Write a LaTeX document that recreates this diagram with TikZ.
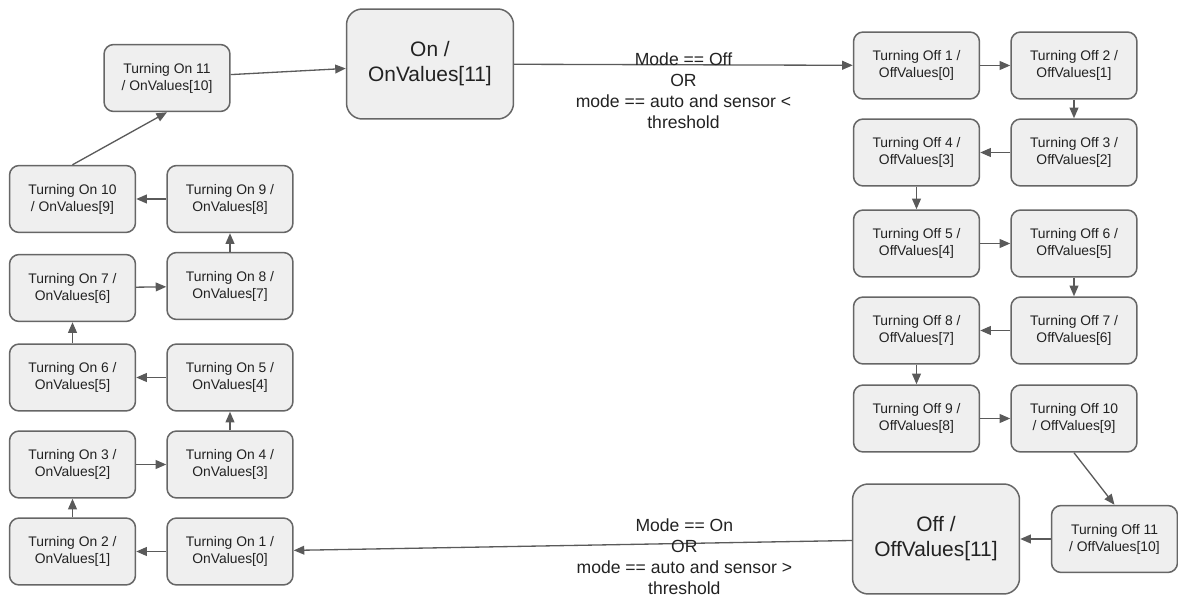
\documentclass[tikz,border=0pt]{standalone}
\usepackage{fontspec}
\setmainfont{Liberation Sans}
\usetikzlibrary{arrows.meta}
\definecolor{boxfill}{HTML}{EFEFEF}
\definecolor{boxline}{HTML}{666666}
\definecolor{arrowline}{HTML}{5A5A5A}
\definecolor{txt}{HTML}{222222}

\begin{document}
\begin{tikzpicture}[x=0.02cm,y=-0.02cm,
  state/.style={draw=boxline,fill=boxfill,line width=0.85pt,rounded corners=5.5pt,
    minimum width=2.52cm,minimum height=1.34cm,inner sep=0pt,align=center,
    text=txt,font=\fontsize{7.9}{9.6}\selectfont},
  bigstate/.style={state,minimum width=3.34cm,minimum height=2.2cm,rounded corners=9pt,
    font=\fontsize{11.9}{14.2}\selectfont},
  trans/.style={draw=arrowline,line width=0.75pt,-{Triangle[length=6pt,width=5pt]}},
  cond/.style={align=center,text=txt,font=\fontsize{10}{11.9}\selectfont}]
  \useasboundingbox (0,0) rectangle (1178,598);

  % turning on
  \node[state] (on1) at (230,551.5) {Turning On 1 /\\OnValues[0]};
  \node[state] (on2) at (72.5,551.5) {Turning On 2 /\\OnValues[1]};
  \node[state] (on3) at (72.5,464.5) {Turning On 3 /\\OnValues[2]};
  \node[state] (on4) at (230,464.5) {Turning On 4 /\\OnValues[3]};
  \node[state] (on5) at (230,377.5) {Turning On 5 /\\OnValues[4]};
  \node[state] (on6) at (72.5,377.5) {Turning On 6 /\\OnValues[5]};
  \node[state] (on7) at (72.5,288) {Turning On 7 /\\OnValues[6]};
  \node[state] (on8) at (230,286) {Turning On 8 /\\OnValues[7]};
  \node[state] (on9) at (230,199) {Turning On 9 /\\OnValues[8]};
  \node[state] (on10) at (72.5,199) {Turning On 10\\/ OnValues[9]};
  \node[state] (on11) at (167,78) {Turning On 11\\/ OnValues[10]};
  \node[bigstate] (onstate) at (430,64) {On /\\OnValues[11]};

  % turning off
  \node[state] (off1) at (916.5,65.5) {Turning Off 1 /\\OffValues[0]};
  \node[state] (off2) at (1074,65.5) {Turning Off 2 /\\OffValues[1]};
  \node[state] (off3) at (1074,152.5) {Turning Off 3 /\\OffValues[2]};
  \node[state] (off4) at (916.5,152.5) {Turning Off 4 /\\OffValues[3]};
  \node[state] (off5) at (916.5,243.5) {Turning Off 5 /\\OffValues[4]};
  \node[state] (off6) at (1074,243.5) {Turning Off 6 /\\OffValues[5]};
  \node[state] (off7) at (1074,330.5) {Turning Off 7 /\\OffValues[6]};
  \node[state] (off8) at (916.5,330.5) {Turning Off 8 /\\OffValues[7]};
  \node[state] (off9) at (916.5,418.5) {Turning Off 9 /\\OffValues[8]};
  \node[state] (off10) at (1074,418.5) {Turning Off 10\\/ OffValues[9]};
  \node[state] (off11) at (1114.5,539) {Turning Off 11\\/ OffValues[10]};
  \node[bigstate] (offstate) at (936,539) {Off /\\OffValues[11]};

  \draw[trans] (on1) -- (on2);
  \draw[trans] (on2) -- (on3);
  \draw[trans] (on3) -- (on4);
  \draw[trans] (on4) -- (on5);
  \draw[trans] (on5) -- (on6);
  \draw[trans] (on6) -- (on7);
  \draw[trans] (on7) -- (on8);
  \draw[trans] (on8) -- (on9);
  \draw[trans] (on9) -- (on10);
  \draw[trans] (on10.north) -- (on11.south);
  \draw[trans] (on11) -- (onstate);

  \draw[trans] (onstate) -- node[cond,yshift=-0.52cm] (offcond)
    {Mode == Off\\OR\\mode == auto and sensor <\\threshold} (off1);

  \draw[trans] (off1) -- (off2);
  \draw[trans] (off2) -- (off3);
  \draw[trans] (off3) -- (off4);
  \draw[trans] (off4) -- (off5);
  \draw[trans] (off5) -- (off6);
  \draw[trans] (off6) -- (off7);
  \draw[trans] (off7) -- (off8);
  \draw[trans] (off8) -- (off9);
  \draw[trans] (off9) -- (off10);
  \draw[trans] (off10.south) -- (off11.north);
  \draw[trans] (off11) -- (offstate);

  \draw[trans] (offstate) -- node[cond,pos=0.3,yshift=-0.27cm] (oncond)
    {Mode == On\\OR\\mode == auto and sensor >\\threshold} (on1);
\end{tikzpicture}
\end{document}
